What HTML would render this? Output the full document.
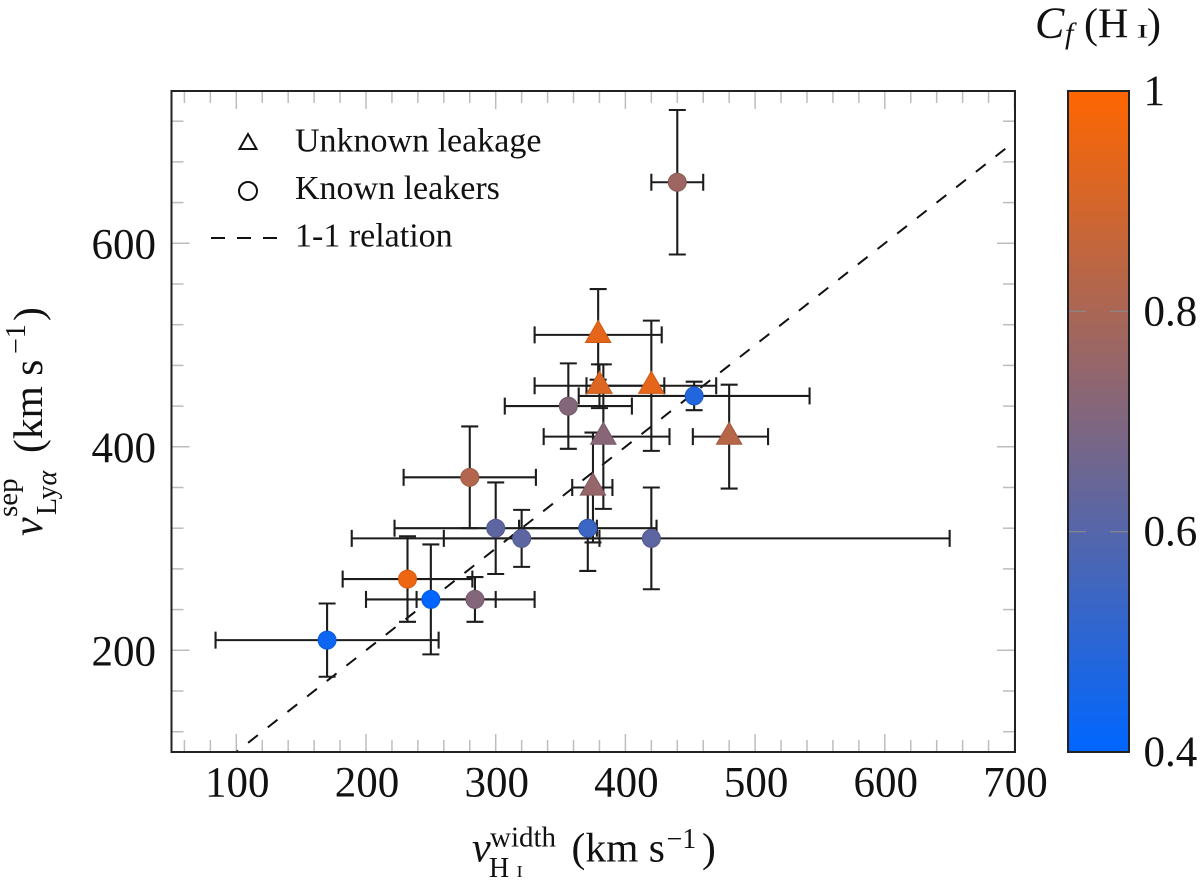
<!DOCTYPE html>
<html lang="en">
<head>
<meta charset="utf-8">
<title>Ly-alpha peak separation vs H I width</title>
<style>
html,body{margin:0;padding:0;background:#fff;width:1200px;height:884px;overflow:hidden}
svg{display:block}
text{font-family:"Liberation Serif",serif;fill:#111}
.it{font-style:italic}
</style>
</head>
<body>
<svg id="chart" width="1200" height="884" viewBox="0 0 1200 884" xmlns="http://www.w3.org/2000/svg">
<defs>
<linearGradient id="cmap" x1="0" y1="1" x2="0" y2="0">
<stop offset="0" stop-color="#0066ff"/>
<stop offset="1" stop-color="#ff6600"/>
</linearGradient>
<clipPath id="plotClip"><rect x="171.5" y="91" width="843.5" height="661"/></clipPath>
</defs>
<rect x="0" y="0" width="1200" height="884" fill="#fff"/>
<g id="ticks"></g>
<g id="labels"></g>
<g id="relation" clip-path="url(#plotClip)"></g>
<g id="errors"></g>
<g id="markers"></g>
<rect x="171.5" y="91" width="843.5" height="661" fill="none" stroke="#222" stroke-width="2"/>

<g>
<polygon points="248,134 256.5,149 239.5,149" fill="#fff" stroke="#111" stroke-width="2"/>
<text x="295" y="151.5" font-size="34">Unknown leakage</text>
<circle cx="248" cy="191" r="9" fill="#fff" stroke="#111" stroke-width="2"/>
<text x="295" y="199" font-size="34">Known leakers</text>
<line x1="211" y1="238" x2="277" y2="238" stroke="#111" stroke-width="2" stroke-dasharray="14 12"/>
<text x="295" y="246.5" font-size="34">1-1 relation</text>
</g>

<g>
<text x="472" y="861.5" font-size="42" class="it">v</text>
<text x="490" y="846.5" font-size="29">width</text>
<text x="489" y="877" font-size="28">H</text>
<text transform="translate(516.5,877) scale(1.1,1)" font-size="17">I</text>
<text x="571.5" y="861.5" font-size="41.5" xml:space="preserve">(km s</text>
<text x="666.5" y="848" font-size="28">−1</text>
<text x="702" y="861.5" font-size="41.5">)</text>
</g>

<g>
<text transform="translate(42,536) rotate(-90)" font-size="42" class="it">v</text>
<text transform="translate(17,517) rotate(-90)" font-size="29">sep</text>
<text transform="translate(56,515) rotate(-90)" font-size="28">Ly<tspan class="it">α</tspan></text>
<text transform="translate(42,453) rotate(-90)" font-size="41.5" xml:space="preserve">(km s</text>
<text transform="translate(25,354) rotate(-90)" font-size="28">−1</text>
<text transform="translate(42,321) rotate(-90)" font-size="41.5">)</text>
</g>

<g>
<rect x="1068" y="91" width="61" height="661" fill="url(#cmap)" stroke="#222" stroke-width="2"/>
<g id="cbticks"></g>
<g>
<text x="1035" y="37.5" font-size="44" class="it">C</text>
<text x="1065" y="43" font-size="30" class="it">f</text>
<text x="1084" y="37.5" font-size="42">(H</text>
<text transform="translate(1136.5,37.5) scale(1.9,1)" font-size="19">I</text>
<text x="1147" y="37.5" font-size="42">)</text>
</g>
</g>
</svg>

<script>
// Axis tick values
const xMajorTicks = [100, 200, 300, 400, 500, 600, 700];
const xMinorTicks = [60, 80, 120, 140, 160, 180, 220, 240, 260, 280, 320, 340, 360, 380, 420, 440, 460, 480, 520, 540, 560, 580, 620, 640, 660, 680];
const yMajorTicks = [200, 400, 600];
const yMinorTicks = [120, 160, 240, 280, 320, 360, 440, 480, 520, 560, 640, 680, 720];
const cbTickValues = [0.4, 0.6, 0.8, 1];
const cbTickLabels = ['0.4', '0.6', '0.8', '1'];

// Known leakers (circles)
const circleX = [170, 232, 250, 284, 300, 320, 371, 420, 453, 356, 280, 440];
const circleY = [210, 270, 250, 250, 320, 310, 320, 310, 450, 440, 370, 660];
const circleXLow = [84, 182, 200, 239, 222, 260, 318, 189, 364, 307, 229, 420];
const circleXHigh = [256, 282, 300, 330, 378, 380, 424, 650, 542, 405, 331, 460];
const circleYLow = [174, 228, 196, 228, 275, 282, 278, 260, 436, 398, 320, 589];
const circleYHigh = [246, 312, 304, 272, 365, 338, 360, 360, 464, 482, 420, 731];
const circleCf = [0.43, 0.96, 0.40, 0.71, 0.62, 0.62, 0.54, 0.62, 0.48, 0.71, 0.82, 0.77];

// Unknown leakage (triangles)
const triangleX = [379, 380, 420, 383, 375, 480];
const triangleY = [510, 460, 460, 410, 360, 410];
const triangleXLow = [330, 330, 370, 337, 359, 452];
const triangleXHigh = [428, 430, 470, 434, 390, 510];
const triangleYLow = [466, 438, 396, 339, 306, 359];
const triangleYHigh = [555, 481, 524, 481, 414, 461];
const triangleCf = [0.94, 0.92, 0.94, 0.72, 0.75, 0.83];

const relationEnds = [100, 700];

const NS = 'http://www.w3.org/2000/svg';
function xs(v) { return 236.3 + (v - 100) * 1.297; }
function ys(v) { return 650.3 - (v - 200) * 1.0175; }
function cbs(v) { return 752 - (v - 0.4) / 0.6 * 661; }
function colorOf(cf) {
  const t = Math.max(0, Math.min(1, (cf - 0.4) / 0.6));
  return 'rgb(' + Math.round(255 * t) + ',102,' + Math.round(255 * (1 - t)) + ')';
}
function edgeOf(cf) {
  const t = Math.max(0, Math.min(1, (cf - 0.4) / 0.6));
  return 'rgb(' + Math.round(225 * t) + ',90,' + Math.round(225 * (1 - t)) + ')';
}
function mk(parent, tag, attrs, txt) {
  const el = document.createElementNS(NS, tag);
  for (const k in attrs) el.setAttribute(k, attrs[k]);
  if (txt !== undefined) el.textContent = txt;
  parent.appendChild(el);
  return el;
}
function line(parent, x1, y1, x2, y2, stroke, w) {
  return mk(parent, 'line', { x1: x1, y1: y1, x2: x2, y2: y2, stroke: stroke, 'stroke-width': w });
}

const gTicks = document.getElementById('ticks');
const gLabels = document.getElementById('labels');
const gRel = document.getElementById('relation');
const gErr = document.getElementById('errors');
const gMark = document.getElementById('markers');
const gCb = document.getElementById('cbticks');
const T = '#bdbdbd';
const top_ = 91, bot = 752, lef = 171.5, rig = 1015;

xMajorTicks.forEach(function (v) {
  const a = line(gTicks, xs(v), bot, xs(v), bot - 18, T, 1.5);
  
  
  const b = line(gTicks, xs(v), top_, xs(v), top_ + 18, T, 1.5);
  
  
  const t = mk(gLabels, 'text', { x: xs(v) + 1, y: 796.5, 'font-size': 43, 'text-anchor': 'middle' }, String(v));
  
  
});
xMinorTicks.forEach(function (v) {
  const a = line(gTicks, xs(v), bot, xs(v), bot - 12, T, 1.5);
  
  
  const b = line(gTicks, xs(v), top_, xs(v), top_ + 12, T, 1.5);
  
  
});
yMajorTicks.forEach(function (v) {
  const a = line(gTicks, lef, ys(v), lef + 18, ys(v), T, 1.5);
  
  
  const b = line(gTicks, rig, ys(v), rig - 18, ys(v), T, 1.5);
  
  
  const t = mk(gLabels, 'text', { x: 156, y: ys(v) + 15, 'font-size': 43, 'text-anchor': 'end' }, String(v));
  
  
});
yMinorTicks.forEach(function (v) {
  const a = line(gTicks, lef, ys(v), lef + 12, ys(v), T, 1.5);
  
  
  const b = line(gTicks, rig, ys(v), rig - 12, ys(v), T, 1.5);
  
  
});

const rel = mk(gRel, 'line', {
  x1: xs(relationEnds[0]), y1: ys(relationEnds[0]),
  x2: xs(relationEnds[1]), y2: ys(relationEnds[1]),
  stroke: '#111', 'stroke-width': 2, 'stroke-dasharray': '12.4 12.6', 'stroke-dashoffset': 10
});



function drawErrors(xv, yv, xl, xh, yl, yh, kind) {
  xv.forEach(function (_, i) {
    const g = mk(gErr, 'g', {});
    
    
    const c = '#1c1c1c', w = 2.1, cap = 8.5;
    const px = xs(xv[i]), py = ys(yv[i]);
    line(g, xs(xl[i]), py, xs(xh[i]), py, c, w);
    line(g, xs(xl[i]), py - cap, xs(xl[i]), py + cap, c, w);
    line(g, xs(xh[i]), py - cap, xs(xh[i]), py + cap, c, w);
    line(g, px, ys(yl[i]), px, ys(yh[i]), c, w);
    line(g, px - cap, ys(yl[i]), px + cap, ys(yl[i]), c, w);
    line(g, px - cap, ys(yh[i]), px + cap, ys(yh[i]), c, w);
  });
}
drawErrors(circleX, circleY, circleXLow, circleXHigh, circleYLow, circleYHigh, 'circle');
drawErrors(triangleX, triangleY, triangleXLow, triangleXHigh, triangleYLow, triangleYHigh, 'triangle');

circleX.forEach(function (_, i) {
  const m = mk(gMark, 'circle', {
    cx: xs(circleX[i]), cy: ys(circleY[i]), r: 9,
    fill: colorOf(circleCf[i]), stroke: edgeOf(circleCf[i]), 'stroke-width': 1
  });
  
  
});
triangleX.forEach(function (_, i) {
  const px = xs(triangleX[i]), py = ys(triangleY[i]);
  const pts = px + ',' + (py - 14.5) + ' ' + (px + 12.7) + ',' + (py + 7.6) + ' ' + (px - 12.7) + ',' + (py + 7.6);
  const m = mk(gMark, 'polygon', {
    points: pts, fill: colorOf(triangleCf[i]), stroke: edgeOf(triangleCf[i]), 'stroke-width': 1
  });
  
  
});

cbTickValues.forEach(function (v, i) {
  if (v > 0.4 && v < 1) {
    const a = line(gCb, 1069, cbs(v), 1086, cbs(v), '#8a8a8a', 1.2);
    
    
    const b = line(gCb, 1110, cbs(v), 1128, cbs(v), '#8a8a8a', 1.2);
    
    
  }
  const t = mk(gCb, 'text', { x: 1143.5, y: cbs(v) + 14, 'font-size': 43 }, cbTickLabels[i]);
  
  
});
</script>
</body>
</html>
